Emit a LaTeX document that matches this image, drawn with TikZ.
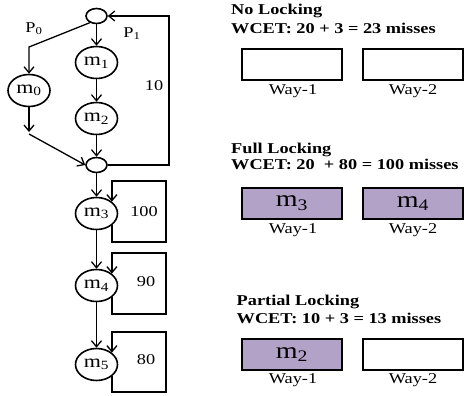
\documentclass[tikz,border=0pt]{standalone}
\usepackage{fontspec}
\usepackage{graphicx}
\setmainfont{Liberation Serif}
\usetikzlibrary{shapes.geometric,arrows.meta}
\definecolor{lockfill}{HTML}{B3A2C7}
\newcommand{\stretchtxt}[1]{\scalebox{1.22}[1]{#1}}
\tikzset{
  arr/.style={line width=1.3pt,-{Straight Barb[length=6pt,width=10pt]}},
  blk/.style={draw,ellipse,line width=1.6pt,inner sep=0pt,minimum width=42pt,minimum height=32pt,font=\fontsize{18}{20}\selectfont},
  junc/.style={draw,ellipse,line width=1.6pt,inner sep=0pt,minimum width=21pt,minimum height=15pt},
  lbl/.style={inner sep=0pt,font=\fontsize{15}{18}\selectfont},
  head/.style={inner sep=0pt,anchor=west,font=\fontsize{15}{18}\selectfont\bfseries},
  waybox/.style={draw,line width=1.3pt,minimum width=100pt,minimum height=31pt,inner sep=0pt,font=\fontsize{23}{25}\selectfont},
  locked/.style={waybox,fill=lockfill}
}
\begin{document}
\begin{tikzpicture}[x=1pt,y=-1pt]
\useasboundingbox (0,0) rectangle (466,396);
% CFG nodes
\node[junc] (T) at (96.5,16) {};
\node[blk] (m1) at (96.5,62.5) {\stretchtxt{m\textsubscript{1}}};
\node[blk] (m2) at (96.5,118.5) {\stretchtxt{m\textsubscript{2}}};
\node[blk] (m0) at (29,90.5) {\stretchtxt{m\textsubscript{0}}};
\node[junc] (B) at (96.5,165) {};
\node[blk] (m3) at (96.5,213.5) {\stretchtxt{m\textsubscript{3}}};
\node[blk] (m4) at (96.5,285.5) {\stretchtxt{m\textsubscript{4}}};
\node[blk] (m5) at (96.5,364.5) {\stretchtxt{m\textsubscript{5}}};
% labels
\node[lbl] (p0) at (34,29) {\stretchtxt{P\textsubscript{0}}};
\node[lbl] (p1) at (132,34) {\stretchtxt{P\textsubscript{1}}};
\node[lbl] (l10) at (154,86) {\stretchtxt{10}};
\node[lbl] (l100) at (144,212) {\stretchtxt{100}};
\node[lbl] (l90) at (146,282) {\stretchtxt{90}};
\node[lbl] (l80) at (146,360) {\stretchtxt{80}};
% coordinates
\coordinate (pc) at (29,47);
\coordinate (m0end) at (29,132);
\coordinate (jstart) at (29,134);
\coordinate (loopx) at (169,0);
% edges
\draw[arr] (T.south) -- (m1.north);
\draw[arr] (m1.south) -- (m2.north);
\draw[arr] (m2.south) -- (B.north);
\draw[arr] (T.225) -- (pc) -- (m0.north);
\draw[arr] (m0.south) -- (m0end);
\draw[arr] (jstart) -- (B.west);
\draw[arr] (B.east) -- (B.east -| loopx) |- (T.east);
\draw[arr] (B.south) -- (m3.north);
\draw[arr] (m3.south) -- (m4.north);
\draw[arr] (m4.south) -- (m5.north);
% self loops
\draw[arr] (m3.south east) |- (166,242) |- (m3.north east |- 0,181) -- (m3.north east);
\draw[arr] (m4.south east) |- (166,314) |- (m4.north east |- 0,253) -- (m4.north east);
\draw[arr] (m5.south east) |- (166,392) |- (m5.north east |- 0,332) -- (m5.north east);
% right side: No Locking
\node[head] (h1) at (231,11) {\stretchtxt{No Locking}};
\node[head] (w1) at (231,28) {\stretchtxt{WCET: 20 + 3 = 23 misses}};
\node[waybox] (a1) at (292,64.5) {};
\node[waybox] (a2) at (413,64.5) {};
\node[lbl] (a1l) at (293,91) {\stretchtxt{Way-1}};
\node[lbl] (a2l) at (413,91) {\stretchtxt{Way-2}};
% Full Locking
\node[head] (h2) at (231,150) {\stretchtxt{Full Locking}};
\node[head] (w2) at (231,164) {\stretchtxt{WCET: 20 \ + 80 = 100 misses}};
\node[locked] (b1) at (292,203.5) {\stretchtxt{m\textsubscript{3}}};
\node[locked] (b2) at (413,203.5) {\stretchtxt{m\textsubscript{4}}};
\node[lbl] (b1l) at (293,230) {\stretchtxt{Way-1}};
\node[lbl] (b2l) at (413,230) {\stretchtxt{Way-2}};
% Partial Locking
\node[head] (h3) at (236.5,302) {\stretchtxt{Partial Locking}};
\node[head] (w3) at (236.5,318) {\stretchtxt{WCET: 10 + 3 = 13 misses}};
\node[locked] (c1) at (292,354.5) {\stretchtxt{m\textsubscript{2}}};
\node[waybox] (c2) at (413,354.5) {};
\node[lbl] (c1l) at (293,380) {\stretchtxt{Way-1}};
\node[lbl] (c2l) at (413,380) {\stretchtxt{Way-2}};
\end{tikzpicture}
\end{document}
